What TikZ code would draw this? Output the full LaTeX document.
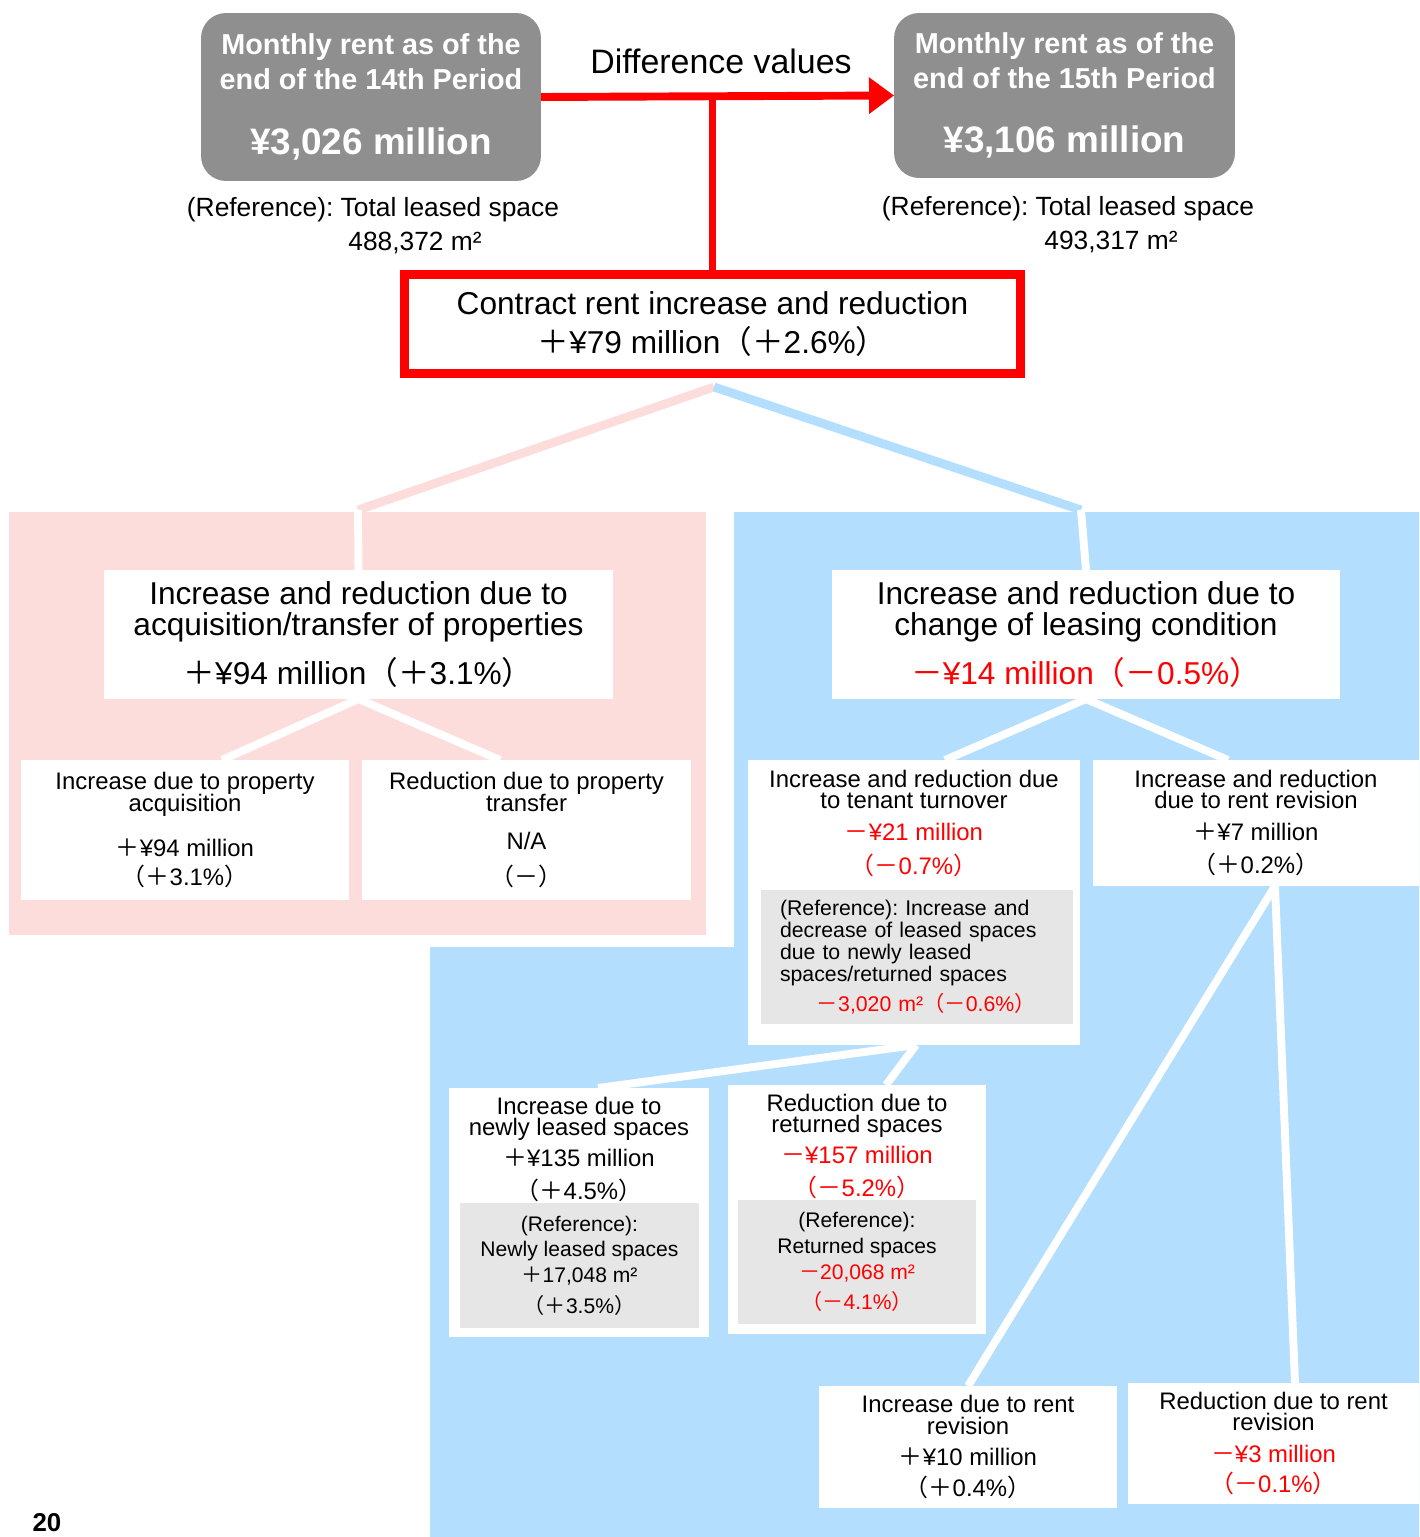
\documentclass[tikz,border=0pt]{standalone}
\usepackage{fontspec}
\setmainfont{Liberation Sans}
\newfontfamily\jpfont{Noto Sans CJK JP}
\usetikzlibrary{arrows.meta,positioning}
\frenchspacing
\definecolor{rentgray}{HTML}{8F8F8F}
\definecolor{acqpink}{HTML}{FDDCDC}
\definecolor{leaseblue}{HTML}{B3DEFD}
\definecolor{refgray}{HTML}{E6E6E6}
\definecolor{cutred}{HTML}{FF0000}
\newcommand{\zplus}{{\jpfont ＋}}
\newcommand{\zminus}{{\jpfont －}}
\newcommand{\zlp}{{\jpfont （}}
\newcommand{\zrp}{{\jpfont ）}}
\newcommand{\tight}{\lineskiplimit=-20pt\lineskip=0pt}

\begin{document}
\begin{tikzpicture}[
  x=0.02cm, y=-0.02cm,
  every node/.style={inner sep=0pt, outer sep=0pt},
  rentbox/.style={fill=rentgray, rounded corners=0.5cm, text=white, align=center, font=\fontsize{16.4}{19.8}\selectfont\bfseries\tight},
  sumbox/.style={draw=cutred, line width=5pt, fill=white, align=center, minimum width=12.32cm, minimum height=1.98cm, font=\fontsize{18}{22.5}\selectfont\tight},
  midbox/.style={fill=white, align=center, minimum width=10.18cm, minimum height=2.58cm, font=\fontsize{18}{17.6}\selectfont\tight},
  leaf/.style={fill=white, align=center, font=\fontsize{13.6}{12.2}\selectfont\tight},
  refbox/.style={fill=refgray, align=center, font=\fontsize{12.1}{12.5}\selectfont\tight},
  note/.style={font=\fontsize{15}{18}\selectfont},
  link/.style={white, line width=4.5pt},
  redline/.style={cutred, line width=4.5pt},
  branch/.style={line width=5pt}
]
\useasboundingbox (0,0) rectangle (1419,1537);

% coloured backgrounds
\fill[acqpink] (9,512) rectangle (706,935);
\fill[leaseblue] (734,512) -- (1419,512) -- (1419,1537) -- (430,1537) -- (430,947) -- (734,947) -- cycle;

% top row
\node[rentbox, minimum width=6.8cm, minimum height=3.36cm] (start) at (371,97) {Monthly rent as of the\\end of the 14th Period\\[17.5pt]{\fontsize{21}{25}\selectfont ¥3,026 million}};
\node[rentbox, minimum width=6.82cm, minimum height=3.3cm] (finish) at (1064.5,95.5) {Monthly rent as of the\\end of the 15th Period\\[17pt]{\fontsize{21}{25}\selectfont ¥3,106 million}};
\node[note, font=\fontsize{19.3}{23}\selectfont] (diff) at (721,61) {Difference values};
\node[note] (refstart) at (373,210) {(Reference): Total leased space};
\node[note] (areastart) at (415,243) {488,372 m²};
\node[note] (reffinish) at (1068,209) {(Reference): Total leased space};
\node[note] (areafinish) at (1111,242) {493,317 m²};

\node[sumbox] (total) at (712.5,324) {Contract rent increase and reduction\\\zplus¥79 million\zlp\zplus2.6\%\zrp};

% second level
\node[midbox] (acq) at (358.5,634.5) {Increase and reduction due to\\acquisition/transfer of properties\\[10.2pt]\zplus¥94 million\zlp\zplus3.1\%\zrp};
\node[midbox] (lease) at (1086,634.5) {Increase and reduction due to\\change of leasing condition\\[10.2pt]\textcolor{cutred}{\zminus¥14 million\zlp\zminus0.5\%\zrp}};

% third level
\node[leaf, minimum width=6.56cm, minimum height=2.8cm] (buy) at (185,830) {Increase due to property\\acquisition\\[13.6pt]\zplus¥94 million\\[3.9pt]\zlp\zplus3.1\%\zrp};
\node[leaf, minimum width=6.58cm, minimum height=2.8cm] (sell) at (526.5,830) {Reduction due to property\\transfer\\[9.6pt]N/A\\[7.9pt]\zlp\zminus\zrp};

\node[leaf, minimum width=6.64cm, minimum height=5.7cm] (turnover) at (914,902.5) {};
\node[leaf, anchor=north] (turnhead) at ([yshift=-0.2cm]turnover.north) {Increase and reduction due\\to tenant turnover\\[5.8pt]\textcolor{cutred}{\zminus¥21 million}\\[7pt]\textcolor{cutred}{\zlp\zminus0.7\%\zrp}};
\node[refbox, minimum width=6.24cm, minimum height=2.68cm, text width=5.48cm, align=left] (turnref) at (917,957) {(Reference): Increase and\\decrease of leased spaces\\due to newly leased\\spaces/returned spaces\\[4.4pt]\hspace*{21pt}\textcolor{cutred}{\zminus3,020 m²\zlp\zminus0.6\%\zrp}};

\node[leaf, minimum width=6.52cm, minimum height=2.52cm] (revision) at (1256,823) {Increase and reduction\\due to rent revision\\[5.8pt]\zplus¥7 million\\[7pt]\zlp\zplus0.2\%\zrp};

% fourth level
\node[leaf, minimum width=5.2cm, minimum height=4.98cm] (newlease) at (579,1212.5) {};
\node[leaf, anchor=north] (newhead) at ([yshift=-0.18cm]newlease.north) {Increase due to\\newly leased spaces\\[5.4pt]\zplus¥135 million\\[6.6pt]\zlp\zplus4.5\%\zrp};
\node[refbox, minimum width=4.78cm, minimum height=2.5cm, font=\fontsize{12}{14.7}\selectfont\tight] (newref) at (579.5,1265.5) {(Reference):\\Newly leased spaces\\\zplus17,048 m²\\[2.6pt]\zlp\zplus3.5\%\zrp};

\node[leaf, minimum width=5.16cm, minimum height=4.98cm] (returned) at (857,1209.5) {};
\node[leaf, anchor=north] (rethead) at ([yshift=-0.18cm]returned.north) {Reduction due to\\returned spaces\\[5.4pt]\textcolor{cutred}{\zminus¥157 million}\\[6.6pt]\textcolor{cutred}{\zlp\zminus5.2\%\zrp}};
\node[refbox, minimum width=4.76cm, minimum height=2.48cm, font=\fontsize{12}{14.7}\selectfont\tight] (retref) at (857,1262) {(Reference):\\Returned spaces\\\textcolor{cutred}{\zminus20,068 m²}\\[2.6pt]\textcolor{cutred}{\zlp\zminus4.1\%\zrp}};

\node[leaf, minimum width=5.96cm, minimum height=2.44cm] (rentup) at (968,1447) {Increase due to rent\\revision\\[5.6pt]\zplus¥10 million\\[5.1pt]\zlp\zplus0.4\%\zrp};
\node[leaf, minimum width=5.82cm, minimum height=2.42cm] (rentdown) at (1273.5,1443.5) {Reduction due to rent\\revision\\[5.6pt]\textcolor{cutred}{\zminus¥3 million}\\[5.1pt]\textcolor{cutred}{\zlp\zminus0.1\%\zrp}};

\node[font=\fontsize{14.7}{17}\selectfont\bfseries] (page) at (47,1523) {20};

% connectors
\draw[redline, -{Triangle[length=0.5cm, width=0.7cm]}] (start.east) -- (finish.west);
\draw[redline] (total.north) -- (total.north |- start.east);

\coordinate (fork) at (714,387);
\coordinate (acqbend) at (358,510);
\coordinate (leasebend) at (1081,510);
\draw[branch, acqpink] (fork) -- (acqbend);
\draw[branch, leaseblue] (fork) -- (leasebend);
\draw[link] (acqbend) -- (acq.north);
\draw[link] (leasebend) -- (lease.north);

\draw[link] (acq.south) -- ([xshift=0.74cm]buy.north);
\draw[link] (acq.south) -- ([xshift=-0.53cm]sell.north);
\draw[link] (lease.south) -- ([xshift=0.62cm]turnover.north);
\draw[link] (lease.south) -- ([xshift=-0.56cm]revision.north);
\draw[link] ([xshift=0.04cm]turnover.south) -- ([xshift=0.38cm]newlease.north);
\draw[link] ([xshift=0.04cm]turnover.south) -- ([xshift=0.58cm]returned.north);
\draw[link] ([xshift=0.38cm]revision.south) -- (rentup.north);
\draw[link] ([xshift=0.38cm]revision.south) -- ([xshift=0.43cm]rentdown.north);
\end{tikzpicture}
\end{document}
